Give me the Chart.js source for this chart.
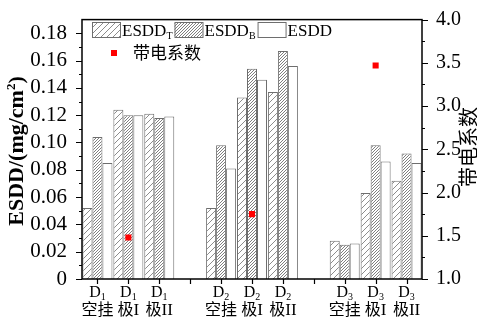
<!DOCTYPE html>
<html>
<head>
<meta charset="utf-8">
<script src="https://cdn.jsdelivr.net/npm/chart.js@4/dist/chart.umd.min.js"></script>
<style>
  html, body { margin: 0; padding: 0; background: #fff; }
  canvas { display: block; }
</style>
</head>
<body>
<canvas id="c" width="477" height="322"></canvas>
<script>
// Sites D1–D3, each with three insulator positions; empty slots separate the sites.
const categories  = ['D1 空挂', 'D1 极I', 'D1 极II', '', 'D2 空挂', 'D2 极I', 'D2 极II', '', 'D3 空挂', 'D3 极I', 'D3 极II'];
const siteSubs    = ['1', '1', '1', '', '2', '2', '2', '', '3', '3', '3'];
const stateLabels = ['空挂', '极I', '极II', '', '空挂', '极I', '极II', '', '空挂', '极I', '极II'];

// ESDD on top surface, bottom surface and whole insulator (mg/cm²)
const esddT = [0.052, 0.124, 0.121, null, 0.052, 0.133, 0.137, null, 0.028, 0.063, 0.072];
const esddB = [0.104, 0.120, 0.118, null, 0.098, 0.154, 0.167, null, 0.025, 0.098, 0.092];
const esdd  = [0.085, 0.120, 0.119, null, 0.081, 0.146, 0.156, null, 0.026, 0.086, 0.085];
// charging coefficient (right axis)
const charge = [null, 1.48, null, null, null, 1.75, null, null, null, 3.47, null];

// axis ticks
const yTicks  = [0, 0.02, 0.04, 0.06, 0.08, 0.10, 0.12, 0.14, 0.16, 0.18];
const y2Ticks = [1.0, 1.5, 2.0, 2.5, 3.0, 3.5, 4.0];

const seriesNames = ['ESDD', 'ESDD', 'ESDD'];
const seriesSubs  = ['T', 'B', ''];
const chargeName  = '带电系数';
const yTitle      = ['ESDD/(mg/cm', '2', ')'];

const SERIF = '"Liberation Serif", "Times New Roman", serif';
const CJK   = '"Noto Sans CJK SC", "Noto Sans", sans-serif';

const canvas = document.getElementById('c');
const mainCtx = canvas.getContext('2d');

function hatch(size, color, lw) {
  const c = document.createElement('canvas');
  c.width = c.height = size;
  const g = c.getContext('2d');
  g.fillStyle = '#fff';
  g.fillRect(0, 0, size, size);
  g.strokeStyle = color;
  g.lineWidth = lw;
  g.beginPath();
  g.moveTo(0, size); g.lineTo(size, 0);
  g.moveTo(-size / 2, size / 2); g.lineTo(size / 2, -size / 2);
  g.moveTo(size / 2, size * 1.5); g.lineTo(size * 1.5, size / 2);
  g.stroke();
  return mainCtx.createPattern(c, 'repeat');
}
const patT = hatch(6, '#8c8c8c', 1);
const patB = hatch(3, '#707070', 0.9);
const BORDER = '#6e6e6e';

function subWidth(ctx, main, sub, size, subSize) {
  ctx.font = size + 'px ' + SERIF;
  let w = ctx.measureText(main).width;
  if (sub) { ctx.font = subSize + 'px ' + SERIF; w += ctx.measureText(sub).width; }
  return w;
}
function drawSub(ctx, x, base, main, sub, size, subSize, drop) {
  ctx.font = size + 'px ' + SERIF;
  ctx.fillText(main, x, base);
  const w = ctx.measureText(main).width;
  if (sub) {
    ctx.font = subSize + 'px ' + SERIF;
    ctx.fillText(sub, x + w, base + drop);
  }
}

const decor = {
  id: 'decor',
  afterDraw(chart) {
    const { ctx, chartArea: a, scales: { x, y, y2 } } = chart;
    ctx.save();
    ctx.fillStyle = '#000';
    ctx.strokeStyle = '#000';

    // frame
    ctx.lineWidth = 1.5;
    ctx.strokeRect(a.left, a.top, a.right - a.left, a.bottom - a.top);

    // tick marks (major with labels, minor in between)
    ctx.lineWidth = 1.2;
    ctx.beginPath();
    for (let i = 0; i <= 18; i++) {
      const py = Math.round(y.getPixelForValue(i * 0.01)) + 0.5;
      const len = i % 2 === 0 ? 6 : 3;
      ctx.moveTo(a.left - len, py); ctx.lineTo(a.left, py);
    }
    for (let i = 0; i <= 12; i++) {
      const py = Math.round(y2.getPixelForValue(1 + i * 0.25)) + 0.5;
      const len = i % 2 === 0 ? 6 : 3;
      ctx.moveTo(a.right, py); ctx.lineTo(a.right + len, py);
    }
    categories.forEach((c, i) => {
      const px = Math.round(x.getPixelForValue(i)) + 0.5;
      ctx.moveTo(px, a.bottom); ctx.lineTo(px, a.bottom + 5);
    });
    ctx.stroke();

    // category labels: D with subscript, then the position name
    ctx.textBaseline = 'alphabetic';
    ctx.textAlign = 'left';
    categories.forEach((c, i) => {
      if (!siteSubs[i]) return;
      const px = x.getPixelForValue(i);
      const w = subWidth(ctx, 'D', siteSubs[i], 16, 10);
      drawSub(ctx, px - w / 2, 297, 'D', siteSubs[i], 16, 10, 3);

      const parts = stateLabels[i].split('');
      const fontOf = ch => (ch === 'I' ? '17px ' + SERIF : '16px ' + CJK);
      let total = 0;
      parts.forEach(ch => { ctx.font = fontOf(ch); total += ctx.measureText(ch).width; });
      let cx = px - total / 2;
      parts.forEach(ch => {
        ctx.font = fontOf(ch);
        ctx.fillText(ch, cx, 315);
        cx += ctx.measureText(ch).width;
      });
    });

    // left axis title
    ctx.save();
    ctx.translate(23, 151);
    ctx.rotate(-Math.PI / 2);
    ctx.font = 'bold 22px ' + SERIF;
    const w1 = ctx.measureText(yTitle[0]).width;
    const w3 = ctx.measureText(yTitle[2]).width;
    ctx.font = 'bold 13px ' + SERIF;
    const w2 = ctx.measureText(yTitle[1]).width;
    let tx = -(w1 + w2 + w3) / 2;
    ctx.font = 'bold 22px ' + SERIF;
    ctx.fillText(yTitle[0], tx, 0); tx += w1;
    ctx.font = 'bold 13px ' + SERIF;
    ctx.fillText(yTitle[1], tx, -8); tx += w2;
    ctx.font = 'bold 22px ' + SERIF;
    ctx.fillText(yTitle[2], tx, 0);
    ctx.restore();

    // right axis title
    ctx.save();
    ctx.translate(468, 147);
    ctx.rotate(-Math.PI / 2);
    ctx.font = '20px ' + CJK;
    ctx.textAlign = 'center';
    ctx.textBaseline = 'middle';
    ctx.fillText(chargeName, 0, 0);
    ctx.restore();

    // legend
    const fills = [patT, patB, '#fff'];
    let bx = 92;
    ctx.lineWidth = 1;
    fills.forEach((f, k) => {
      ctx.fillStyle = f;
      ctx.fillRect(bx, 22, 28, 15);
      ctx.strokeStyle = BORDER;
      ctx.strokeRect(bx + 0.5, 22.5, 28, 15);
      ctx.fillStyle = '#000';
      drawSub(ctx, bx + 30, 36, seriesNames[k], seriesSubs[k], 17, 10, 3);
      bx += 30 + subWidth(ctx, seriesNames[k], seriesSubs[k], 17, 10) + 2;
    });
    ctx.fillStyle = '#ff0000';
    ctx.fillRect(111, 50, 6, 6);
    ctx.fillStyle = '#000';
    ctx.font = '17px ' + CJK;
    ctx.textBaseline = 'middle';
    ctx.fillText(chargeName, 133, 53);

    ctx.restore();
  }
};

Chart.defaults.font.family = SERIF;
Chart.defaults.color = '#000';

new Chart(canvas, {
  data: {
    labels: categories,
    datasets: [
      { type: 'bar', label: 'ESDD_T', data: esddT, yAxisID: 'y', order: 1,
        backgroundColor: patT, borderColor: BORDER, borderWidth: 1 },
      { type: 'bar', label: 'ESDD_B', data: esddB, yAxisID: 'y', order: 1,
        backgroundColor: patB, borderColor: BORDER, borderWidth: 1 },
      { type: 'bar', label: 'ESDD', data: esdd, yAxisID: 'y', order: 1,
        backgroundColor: '#ffffff', borderColor: BORDER, borderWidth: 1 },
      { type: 'line', label: chargeName, data: charge, yAxisID: 'y2', order: 0,
        showLine: false, pointStyle: 'rect', pointRadius: 4.3, pointBorderWidth: 0,
        backgroundColor: '#ff0000', borderColor: '#ff0000' }
    ]
  },
  options: {
    responsive: false,
    animation: false,
    devicePixelRatio: 1,
    layout: { padding: { top: 14, left: 0, right: 0, bottom: 0 } },
    datasets: { bar: { categoryPercentage: 0.97, barPercentage: 1 } },
    plugins: { legend: { display: false }, tooltip: { enabled: false } },
    scales: {
      x: {
        type: 'category', offset: true,
        grid: { display: false }, border: { display: false },
        ticks: { display: false },
        afterFit: s => { s.height = 43; }
      },
      y: {
        position: 'left', min: 0, max: 0.19,
        grid: { display: false }, border: { display: false },
        afterBuildTicks: s => { s.ticks = yTicks.map(v => ({ value: v })); },
        ticks: {
          padding: 7, autoSkip: false,
          font: { size: 21, family: SERIF },
          callback: v => (v === 0 ? '0' : v.toFixed(2))
        },
        afterFit: s => { s.width = 82; }
      },
      y2: {
        position: 'right', min: 1, max: 4,
        grid: { display: false }, border: { display: false },
        afterBuildTicks: s => { s.ticks = y2Ticks.map(v => ({ value: v })); },
        ticks: {
          padding: 6, autoSkip: false,
          font: { size: 20, family: SERIF },
          callback: v => v.toFixed(1)
        },
        afterFit: s => { s.width = 55; }
      }
    }
  },
  plugins: [decor]
});
</script>
</body>
</html>
